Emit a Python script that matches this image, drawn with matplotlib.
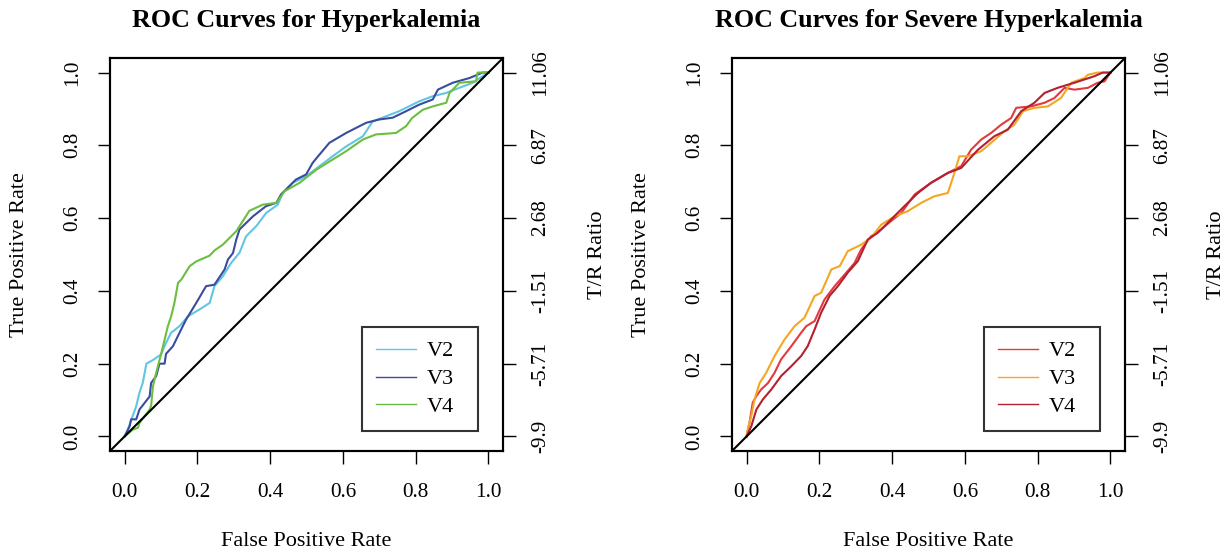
import matplotlib
matplotlib.use("Agg")
import matplotlib.pyplot as plt

plt.rcParams['font.family'] = ['Liberation Serif', 'DejaVu Serif']

# ---------------- data ----------------
tick_vals = [0.0, 0.2, 0.4, 0.6, 0.8, 1.0]
tick_labels = ["0.0", "0.2", "0.4", "0.6", "0.8", "1.0"]
tr_labels = ["-9.9", "-5.71", "-1.51", "2.68", "6.87", "11.06"]
series_names = ["V2", "V3", "V4"]

# Hyperkalemia
hk_v2_fpr = [0.0, 0.009, 0.032, 0.041, 0.05, 0.06, 0.078, 0.10, 0.114, 0.128, 0.151, 0.174, 0.206, 0.234, 0.247,
             0.27, 0.293, 0.316, 0.334, 0.362, 0.389, 0.421, 0.435, 0.462, 0.499, 0.536, 0.572, 0.609, 0.655,
             0.682, 0.719, 0.755, 0.81, 0.847, 0.884, 0.92, 0.957, 0.984, 1.0]
hk_v2_tpr = [0.0, 0.019, 0.083, 0.12, 0.147, 0.2, 0.21, 0.225, 0.257, 0.285, 0.303, 0.33, 0.349, 0.367, 0.413,
             0.44, 0.477, 0.505, 0.55, 0.578, 0.614, 0.637, 0.669, 0.697, 0.715, 0.743, 0.77, 0.797, 0.825,
             0.866, 0.88, 0.894, 0.921, 0.935, 0.944, 0.958, 0.972, 0.99, 1.0]
hk_v3_fpr = [0.0, 0.014, 0.018, 0.032, 0.041, 0.055, 0.069, 0.073, 0.087, 0.096, 0.11, 0.114, 0.133, 0.151, 0.169,
             0.197, 0.224, 0.247, 0.275, 0.284, 0.298, 0.307, 0.316, 0.353, 0.389, 0.417, 0.43, 0.453, 0.471,
             0.499, 0.517, 0.536, 0.563, 0.609, 0.664, 0.70, 0.737, 0.774, 0.81, 0.847, 0.861, 0.902, 0.948,
             0.984, 1.0]
hk_v3_tpr = [0.0, 0.028, 0.047, 0.047, 0.074, 0.092, 0.11, 0.147, 0.166, 0.2, 0.2, 0.227, 0.248, 0.285, 0.321,
             0.367, 0.413, 0.417, 0.459, 0.486, 0.504, 0.541, 0.569, 0.605, 0.633, 0.642, 0.665, 0.688, 0.706,
             0.72, 0.752, 0.775, 0.807, 0.834, 0.862, 0.871, 0.876, 0.894, 0.912, 0.926, 0.953, 0.972, 0.985,
             1.0, 1.0]
hk_v4_fpr = [0.0, 0.023, 0.037, 0.041, 0.069, 0.073, 0.078, 0.087, 0.101, 0.119, 0.128, 0.137, 0.147, 0.156,
             0.179, 0.197, 0.234, 0.247, 0.270, 0.307, 0.343, 0.38, 0.417, 0.44, 0.481, 0.527, 0.572, 0.609,
             0.655, 0.691, 0.746, 0.774, 0.79, 0.82, 0.847, 0.884, 0.893, 0.92, 0.966, 0.97, 1.0]
hk_v4_tpr = [0.0, 0.019, 0.024, 0.037, 0.074, 0.084, 0.138, 0.175, 0.229, 0.303, 0.33, 0.367, 0.422, 0.431,
             0.468, 0.481, 0.497, 0.511, 0.527, 0.564, 0.62, 0.637, 0.642, 0.674, 0.697, 0.733, 0.761, 0.784,
             0.816, 0.83, 0.834, 0.853, 0.875, 0.898, 0.907, 0.917, 0.944, 0.972, 0.976, 1.0, 1.0]

# Severe hyperkalemia
shk_v2_fpr = [0.0, 0.008, 0.017, 0.027, 0.04, 0.059, 0.077, 0.095, 0.123, 0.15, 0.164, 0.187, 0.214, 0.242,
              0.274, 0.297, 0.315, 0.342, 0.37, 0.397, 0.425, 0.462, 0.507, 0.553, 0.59, 0.617, 0.645, 0.672,
              0.70, 0.727, 0.741, 0.782, 0.819, 0.846, 0.874, 0.901, 0.938, 0.965, 0.984, 0.993, 1.0]
shk_v2_tpr = [0.0, 0.037, 0.093, 0.111, 0.129, 0.147, 0.175, 0.212, 0.248, 0.285, 0.303, 0.317, 0.376, 0.413,
              0.45, 0.477, 0.514, 0.55, 0.569, 0.592, 0.614, 0.665, 0.697, 0.724, 0.743, 0.788, 0.816, 0.834,
              0.857, 0.875, 0.903, 0.907, 0.917, 0.93, 0.958, 0.953, 0.958, 0.972, 0.976, 0.99, 1.0]
shk_v3_fpr = [0.0, 0.004, 0.013, 0.022, 0.036, 0.054, 0.077, 0.104, 0.132, 0.159, 0.187, 0.205, 0.233, 0.256,
              0.278, 0.315, 0.342, 0.37, 0.407, 0.443, 0.48, 0.516, 0.553, 0.567, 0.585, 0.608, 0.645, 0.672,
              0.709, 0.736, 0.76, 0.791, 0.828, 0.864, 0.892, 0.929, 0.938, 0.965, 1.0]
shk_v3_tpr = [0.0, 0.023, 0.056, 0.102, 0.147, 0.175, 0.221, 0.266, 0.303, 0.326, 0.386, 0.395, 0.459, 0.468,
              0.509, 0.527, 0.546, 0.582, 0.605, 0.619, 0.642, 0.66, 0.669, 0.711, 0.77, 0.77, 0.784, 0.807,
              0.839, 0.857, 0.894, 0.903, 0.907, 0.93, 0.972, 0.985, 0.994, 1.0, 1.0]
shk_v4_fpr = [0.0, 0.013, 0.027, 0.045, 0.068, 0.095, 0.123, 0.15, 0.168, 0.187, 0.205, 0.228, 0.251, 0.278,
              0.306, 0.333, 0.361, 0.397, 0.434, 0.471, 0.507, 0.553, 0.59, 0.636, 0.681, 0.718, 0.755, 0.791,
              0.819, 0.855, 0.901, 0.956, 0.979, 1.0]
shk_v4_tpr = [0.0, 0.028, 0.074, 0.102, 0.129, 0.166, 0.193, 0.221, 0.248, 0.294, 0.34, 0.386, 0.413, 0.45,
              0.482, 0.541, 0.56, 0.596, 0.633, 0.669, 0.697, 0.724, 0.738, 0.788, 0.825, 0.843, 0.894, 0.917,
              0.944, 0.958, 0.972, 0.99, 1.0, 1.0]

panels = [
    dict(title="ROC Curves for Hyperkalemia",
         fpr=[hk_v2_fpr, hk_v3_fpr, hk_v4_fpr],
         tpr=[hk_v2_tpr, hk_v3_tpr, hk_v4_tpr],
         colors=["#62C6E3", "#3A4C9E", "#6BBE40"]),
    dict(title="ROC Curves for Severe Hyperkalemia",
         fpr=[shk_v2_fpr, shk_v3_fpr, shk_v4_fpr],
         tpr=[shk_v2_tpr, shk_v3_tpr, shk_v4_tpr],
         colors=["#E33A3D", "#F5A623", "#B3202F"]),
]

# ---------------- figure ----------------
W, H = 1225, 553
fig = plt.figure(figsize=(W / 100, H / 100), dpi=100)

ax_w = 393 / W
ax_h = 393 / H
ax_b = 1 - 451 / H
lefts = [110 / W, 732 / W]
tr_label_x = [597, 1216]

TICK_FS = 15.3
LAB_FS = 16
TITLE_FS = 18.7

for p, left, trx in zip(panels, lefts, tr_label_x):
    ax = fig.add_axes([left, ax_b, ax_w, ax_h])
    for f, t, c, name in zip(p["fpr"], p["tpr"], p["colors"], series_names):
        ax.plot(f, t, color=c, lw=1.5, label=name)
    ax.axline((0, 0), slope=1, color="black", lw=1.5)
    ax.set_xlim(-0.04, 1.04)
    ax.set_ylim(-0.04, 1.04)
    ax.set_xticks(tick_vals)
    ax.set_xticklabels(tick_labels)
    ax.set_yticks(tick_vals)
    ax.set_yticklabels(tick_labels, rotation=90, va="center")
    ax.tick_params(axis="both", direction="out", length=9, width=1.0,
                   labelsize=TICK_FS, colors="black")
    ax.tick_params(axis="x", pad=14)
    ax.tick_params(axis="y", pad=11)
    for s in ax.spines.values():
        s.set_linewidth(1.5)
        s.set_color("black")

    ax2 = ax.twinx()
    ax2.set_ylim(-0.04, 1.04)
    ax2.set_yticks(tick_vals)
    ax2.set_yticklabels(tr_labels, rotation=90, va="center")
    ax2.tick_params(axis="y", direction="out", length=9, width=1.0,
                    labelsize=TICK_FS, pad=11)
    for s in ax2.spines.values():
        s.set_linewidth(1.5)

    ax.set_title(p["title"], fontsize=TITLE_FS, fontweight="bold", pad=22)
    ax.text(0.5, (451 - 541) / 393, "False Positive Rate", transform=ax.transAxes,
            ha="center", va="center", fontsize=LAB_FS)
    ax.text((20 - 110) / 393, 0.5, "True Positive Rate", transform=ax.transAxes,
            ha="center", va="center", rotation=90, fontsize=LAB_FS)
    ax2.text((trx - left * W) / 393, 0.5, "T/R Ratio", transform=ax.transAxes,
             ha="center", va="center", rotation=90, fontsize=LAB_FS)

    leg = ax.legend(loc="lower left", bbox_to_anchor=(0.641, 0.051, 0.295, 0.265),
                    mode="expand", fontsize=LAB_FS, frameon=True, fancybox=False,
                    handlelength=1.8, handletextpad=0.5, borderpad=0.62,
                    labelspacing=0.33, borderaxespad=0)
    leg.get_frame().set_edgecolor("black")
    leg.get_frame().set_linewidth(1.5)
    for h in leg.get_lines():
        h.set_linewidth(1.0)
    for txt in leg.get_texts():
        txt.set_ha("left")

fig.savefig("out.png", dpi=100, facecolor="white")
